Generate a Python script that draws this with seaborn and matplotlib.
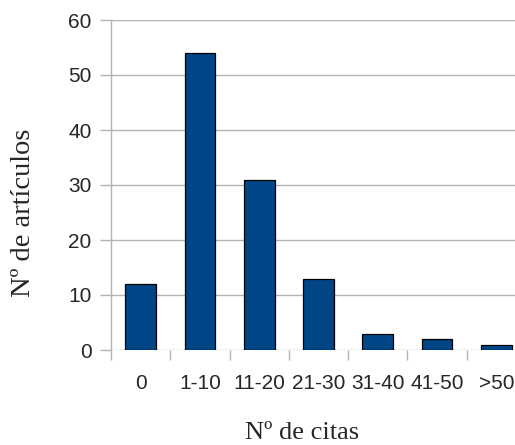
import matplotlib
matplotlib.use("Agg")
import matplotlib.pyplot as plt
import seaborn as sns
import pandas as pd
from matplotlib.ticker import FixedLocator

# Data
categorias = ["0", "1-10", "11-20", "21-30", "31-40", "41-50", ">50"]
articulos = [12, 54, 31, 13, 3, 2, 1]

df = pd.DataFrame({"citas": categorias, "articulos": articulos})

sns.set_style("white")
plt.rcParams["font.family"] = ["Liberation Sans", "DejaVu Sans"]

fig = plt.figure(figsize=(5.15, 4.45), dpi=100)
ax = fig.add_axes([111 / 515, 95 / 445, 415 / 515, 330 / 445])

grid_color = "#b3b3b3"

sns.barplot(data=df, x="citas", y="articulos", color="#004586",
            edgecolor="black", linewidth=0.9, width=0.52, saturation=1,
            ax=ax, zorder=3)

ax.set_ylim(0, 60)
ax.set_xlim(-0.5, len(categorias) - 0.5)
ax.set_yticks(range(0, 61, 10))
ax.yaxis.grid(True, color=grid_color, linewidth=1, zorder=0)
ax.set_axisbelow(True)

for side in ["top", "right", "bottom"]:
    ax.spines[side].set_visible(False)
ax.spines["left"].set_color(grid_color)
ax.spines["left"].set_linewidth(1)

# y ticks
ax.tick_params(axis="y", which="major", length=8, width=1, color=grid_color,
               labelsize=15, pad=6, direction="out", left=True)

# x ticks: labels at centres, marks at the boundaries
ax.tick_params(axis="x", which="major", length=0, labelsize=15, pad=17)
ax.xaxis.set_minor_locator(FixedLocator([i - 0.5 for i in range(len(categorias) + 1)]))
ax.tick_params(axis="x", which="minor", length=7, width=1, color=grid_color,
               direction="out", bottom=True)

ax.set_xlabel("Nº de citas", family=["Liberation Serif", "DejaVu Serif"],
              fontsize=19)
ax.set_ylabel("Nº de artículos", family=["Liberation Serif", "DejaVu Serif"],
              fontsize=20.5)
ax.xaxis.set_label_coords(0.46, -0.2515)
ax.xaxis.label.set_va("center")
ax.yaxis.set_label_coords(-0.212, 0.415)
ax.yaxis.label.set_va("center")

fig.savefig("out.png", dpi=100)
